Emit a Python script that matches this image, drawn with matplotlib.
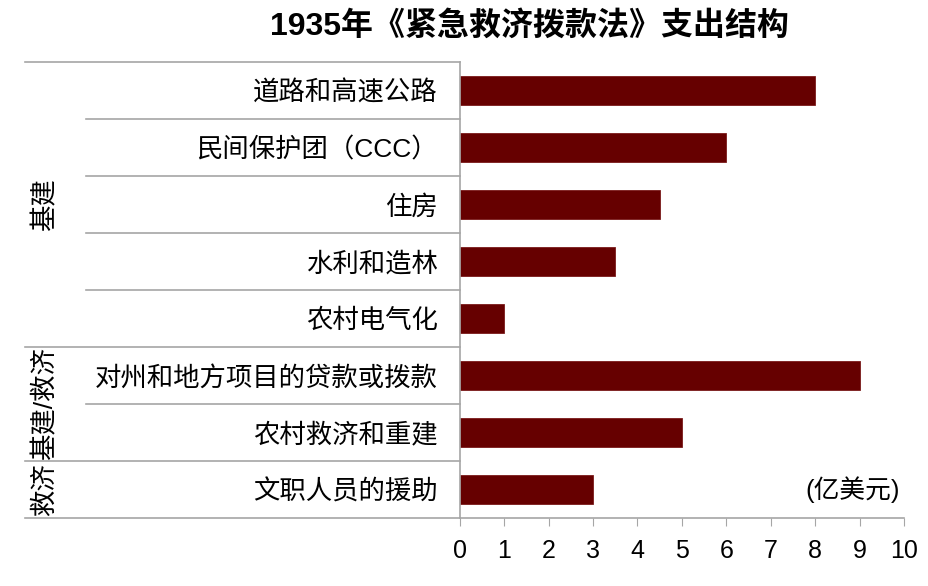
import numpy as np
import matplotlib.pyplot as plt
from matplotlib.transforms import blended_transform_factory

plt.rcParams['font.family'] = ['Liberation Sans', 'Noto Sans CJK SC', 'DejaVu Sans']

# data
categories = ['道路和高速公路', '民间保护团（CCC）', '住房', '水利和造林', '农村电气化',
              '对州和地方项目的贷款或拨款', '农村救济和重建', '文职人员的援助']
values = [8, 6, 4.5, 3.5, 1, 9, 5, 3]
groups = ['基建', '基建/救济', '救济']
group_sizes = [5, 2, 1]

bar_color = '#660000'
line_color = '#A6A6A6'

fig = plt.figure(figsize=(9.29, 5.86), dpi=100)
ax = fig.add_axes([0.495, 0.116, 0.478, 0.778])

y = np.arange(len(categories))
ax.barh(y, values, height=0.5, color=bar_color, edgecolor='#7a1a1a', linewidth=0.6)
ax.set_ylim(len(categories) - 0.5, -0.5)
ax.set_xlim(0, 10)
ax.set_xticks(range(0, 11))
ax.set_yticks(y)
ax.set_yticklabels(categories, fontsize=19)
ax.tick_params(axis='y', length=0, pad=16)
ax.tick_params(axis='x', length=6, color=line_color, labelsize=18, pad=9)

for s in ['top', 'right']:
    ax.spines[s].set_visible(False)
for s in ['left', 'bottom']:
    ax.spines[s].set_color(line_color)
    ax.spines[s].set_linewidth(1.2)

# separator lines to the left of the axes
trans = blended_transform_factory(ax.transAxes, ax.transData)
bounds = np.cumsum([0] + group_sizes) - 0.5
for k in range(len(categories) + 1):
    yy = k - 0.5
    x0 = -0.98 if yy in bounds else -0.842
    ax.plot([x0, 0], [yy, yy], color=line_color, lw=1.2, transform=trans, clip_on=False)

# group labels
for g, a, b in zip(groups, bounds[:-1], bounds[1:]):
    ax.text(-0.935, (a + b) / 2, g, rotation=90, ha='center', va='center',
            fontsize=19, transform=trans)

ax.text(0.99, len(categories) - 1, '(亿美元)', ha='right', va='center',
        fontsize=18.5, transform=trans)

fig.text(0.57, 0.955, '1935年《紧急救济拨款法》支出结构', ha='center', va='center',
         fontsize=23, fontweight='bold')

fig.savefig('out.png', dpi=100)
